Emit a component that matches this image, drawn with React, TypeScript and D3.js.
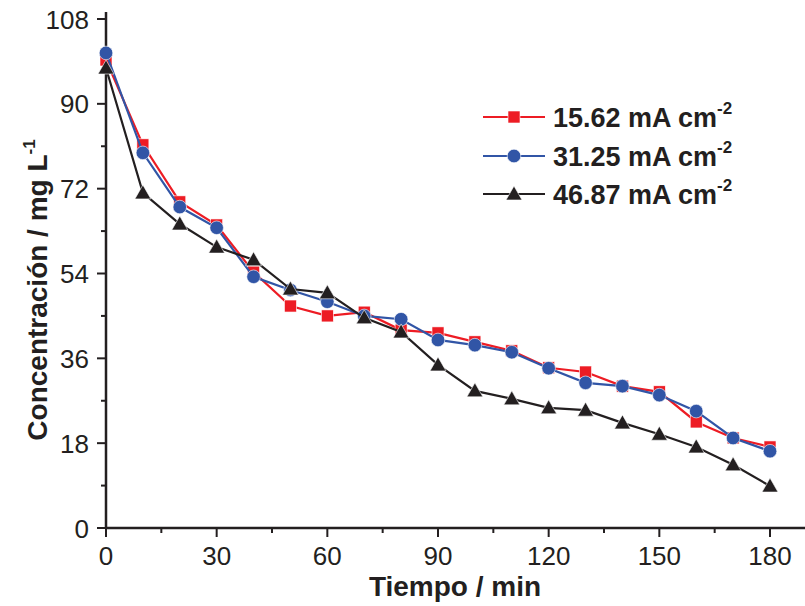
import React from "react";
import * as d3 from "d3";

const times = [0, 10, 20, 30, 40, 50, 60, 70, 80, 90, 100, 110, 120, 130, 140, 150, 160, 170, 180];
const red15 = [99.3, 81.3, 69.2, 64.3, 54.3, 47.1, 45.0, 45.8, 42.0, 41.4, 39.5, 37.6, 34.0, 33.1, 30.1, 28.9, 22.5, 19.1, 17.2];
const blue31 = [100.8, 79.6, 68.1, 63.7, 53.3, 50.5, 48.0, 45.0, 44.3, 39.9, 38.8, 37.3, 33.9, 30.8, 30.1, 28.2, 24.8, 19.1, 16.3];
const black46 = [97.6, 71.1, 64.5, 59.6, 56.9, 50.7, 49.9, 44.6, 41.6, 34.6, 29.1, 27.4, 25.5, 25.0, 22.3, 19.9, 17.2, 13.4, 8.9];
const xTicks = [0, 30, 60, 90, 120, 150, 180];
const xMinor = [15, 45, 75, 105, 135, 165];
const yTicks = [0, 18, 36, 54, 72, 90, 108];
const yMinor = [9, 27, 45, 63, 81, 99];
const seriesNames = ["15.62 mA cm", "31.25 mA cm", "46.87 mA cm"];

const FONT = "'Liberation Sans', Arial, sans-serif";
const INK = "#231f20";

const series = [
  { name: seriesNames[0], values: red15, color: "#ed1c24", shape: "square" },
  { name: seriesNames[1], values: blue31, color: "#3155a6", shape: "circle" },
  { name: seriesNames[2], values: black46, color: "#231f20", shape: "triangle" },
];

function Marker({ shape, x, y, color }: { shape: string; x: number; y: number; color: string }) {
  if (shape === "square") {
    return <rect x={x - 6} y={y - 6} width={12} height={12} fill={color} stroke="#fff" strokeWidth={0.6} />;
  }
  if (shape === "circle") {
    return <circle cx={x} cy={y} r={6.8} fill={color} stroke="#fff" strokeWidth={0.6} />;
  }
  const s = 8;
  const p = `M${x},${y - s * 1.0} L${x + s},${y + s * 0.75} L${x - s},${y + s * 0.75} Z`;
  return <path d={p} fill={color} stroke="#fff" strokeWidth={0.6} />;
}

export default function App() {
  const W = 805;
  const H = 606;
  const x = d3.scaleLinear().domain([0, 180]).range([106, 770]);
  const y = d3.scaleLinear().domain([0, 108]).range([528, 19]);
  const line = d3
    .line<number>()
    .x((_, i) => x(times[i]))
    .y((d) => y(d));

  const legendRows = [117, 156, 194];

  return (
    <div style={{ position: "absolute", left: 0, top: 0 }}>
      <svg width={W} height={H} style={{ display: "block", background: "#fff" }}>
        {/* axes */}
        <line x1={x(0)} x2={805} y1={y(0)} y2={y(0)} stroke={INK} strokeWidth={2.5} />
        <line x1={x(0)} x2={x(0)} y1={y(0) + 1} y2={12} stroke={INK} strokeWidth={2.5} />
        {xTicks.map((t) => (
          <g key={"xt" + t}>
            <line x1={x(t)} x2={x(t)} y1={y(0)} y2={y(0) + 9} stroke={INK} strokeWidth={2} />
            <text x={x(t)} y={565} textAnchor="middle" fontFamily={FONT} fontSize={26} fill={INK}>
              {t}
            </text>
          </g>
        ))}
        {xMinor.map((t) => (
          <line key={"xm" + t} x1={x(t)} x2={x(t)} y1={y(0)} y2={y(0) + 5} stroke={INK} strokeWidth={2} />
        ))}
        {yTicks.map((t) => (
          <g key={"yt" + t}>
            <line x1={x(0)} x2={x(0) - 9} y1={y(t)} y2={y(t)} stroke={INK} strokeWidth={2} />
            <text x={89} y={y(t) + 9.5} textAnchor="end" fontFamily={FONT} fontSize={26} fill={INK}>
              {t}
            </text>
          </g>
        ))}
        {yMinor.map((t) => (
          <line key={"ym" + t} x1={x(0)} x2={x(0) - 5} y1={y(t)} y2={y(t)} stroke={INK} strokeWidth={2} />
        ))}
        {/* axis titles */}
        <text x={455} y={596} textAnchor="middle" fontFamily={FONT} fontSize={28} fontWeight="bold" fill={INK}>
          Tiempo / min
        </text>
        <text
          transform={`translate(47,${290}) rotate(-90)`}
          textAnchor="middle"
          fontFamily={FONT}
          fontSize={28}
          fontWeight="bold"
          fill={INK}
        >
          Concentración / mg L<tspan dy={-12} fontSize={17}>-1</tspan>
        </text>
        {/* series */}
        {series.map((s) => (
          <g key={s.name}>
            <path d={line(s.values) || ""} fill="none" stroke={s.color} strokeWidth={2.2} />
            {s.values.map((v, i) => (
              <Marker key={i} shape={s.shape} x={x(times[i])} y={y(v)} color={s.color} />
            ))}
          </g>
        ))}
        {/* legend */}
        {series.map((s, i) => (
          <g key={"lg" + i}>
            <line x1={483} x2={545} y1={legendRows[i]} y2={legendRows[i]} stroke={s.color} strokeWidth={2.2} />
            <Marker shape={s.shape} x={514} y={legendRows[i]} color={s.color} />
            <text x={553} y={legendRows[i] + 10} fontFamily={FONT} fontSize={27} fontWeight="bold" fill={INK}>
              {s.name}
              <tspan dy={-13} fontSize={17}>-2</tspan>
            </text>
          </g>
        ))}
      </svg>
    </div>
  );
}
